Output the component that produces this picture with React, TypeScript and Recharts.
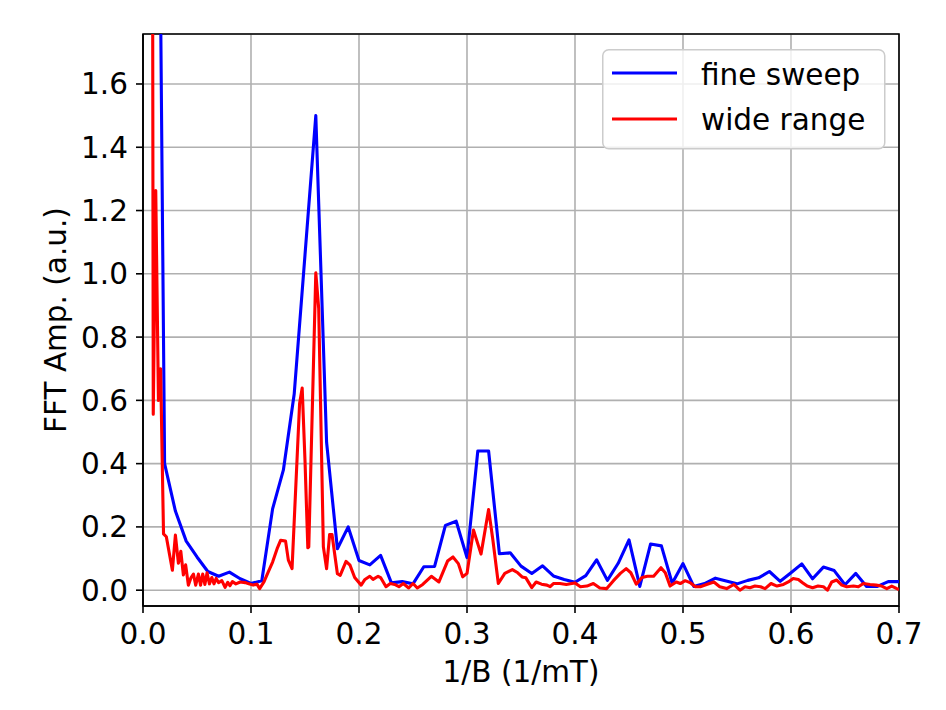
import React from 'react';
import { LineChart, Line, XAxis, YAxis, CartesianGrid, ReferenceArea, Legend } from 'recharts';

const xTicks = [0, 0.1, 0.2, 0.3, 0.4, 0.5, 0.6, 0.7];
const yTicks = [0, 0.2, 0.4, 0.6, 0.8, 1.0, 1.2, 1.4, 1.6];

const fineX = [
  0.01, 0.02, 0.03, 0.04, 0.05, 0.06, 0.07, 0.08, 0.09, 0.10,
  0.11, 0.12, 0.13, 0.14, 0.15, 0.16, 0.17, 0.18, 0.19, 0.20,
  0.21, 0.22, 0.23, 0.24, 0.25, 0.26, 0.27, 0.28, 0.29, 0.30,
  0.31, 0.32, 0.33, 0.34, 0.35, 0.36, 0.37, 0.38, 0.39, 0.40,
  0.41, 0.42, 0.43, 0.44, 0.45, 0.46, 0.47, 0.48, 0.49, 0.50,
  0.51, 0.52, 0.53, 0.54, 0.55, 0.56, 0.57, 0.58, 0.59, 0.60,
  0.61, 0.62, 0.63, 0.64, 0.65, 0.66, 0.67, 0.68, 0.69, 0.70,
];
const fineY = [
  4.3, 0.40, 0.25, 0.155, 0.105, 0.059, 0.044, 0.057, 0.036, 0.021,
  0.030, 0.257, 0.38, 0.62, 1.06, 1.50, 0.467, 0.131, 0.20, 0.094,
  0.08, 0.11, 0.023, 0.027, 0.02, 0.074, 0.075, 0.205, 0.218, 0.103,
  0.44, 0.44, 0.115, 0.118, 0.076, 0.053, 0.077, 0.045, 0.034, 0.025,
  0.046, 0.096, 0.031, 0.085, 0.159, 0.012, 0.146, 0.14, 0.022, 0.084,
  0.012, 0.021, 0.038, 0.029, 0.02, 0.031, 0.039, 0.059, 0.028, 0.055,
  0.083, 0.036, 0.073, 0.062, 0.017, 0.053, 0.012, 0.012, 0.027, 0.027,
];

const wideX = [
  0.0072, 0.0095, 0.0118, 0.0143, 0.0163, 0.0190, 0.0216, 0.0272, 0.0300, 0.0328,
  0.0350, 0.0374, 0.0395, 0.0420, 0.0445, 0.0467, 0.0488, 0.0513, 0.0533, 0.0553,
  0.0573, 0.0593, 0.0615, 0.0637, 0.0657, 0.0677, 0.0700, 0.0730, 0.0760, 0.0785,
  0.0805, 0.0828, 0.0860, 0.0900, 0.0946, 0.0980, 0.1020, 0.1055, 0.1080, 0.1120,
  0.1160, 0.1200, 0.1245, 0.1275, 0.1320, 0.1346, 0.1380, 0.1450, 0.1474, 0.1500,
  0.1526, 0.1535, 0.1600, 0.1627, 0.1670, 0.1700, 0.1728, 0.1750, 0.1800, 0.1826,
  0.1880, 0.1917, 0.1960, 0.2020, 0.2055, 0.2100, 0.2130, 0.2177, 0.2200, 0.2250,
  0.2290, 0.2330, 0.2370, 0.2410, 0.2460, 0.2500, 0.2540, 0.2590, 0.2670, 0.2740,
  0.2820, 0.2870, 0.2920, 0.2960, 0.3000, 0.3060, 0.3130, 0.3200, 0.3240, 0.3290,
  0.3350, 0.3420, 0.3470, 0.3510, 0.3545, 0.3600, 0.3640, 0.3690, 0.3740, 0.3770,
  0.3800, 0.3860, 0.3920, 0.3970, 0.4000, 0.4050, 0.4110, 0.4170, 0.4230, 0.4294,
  0.4356, 0.4420, 0.4474, 0.4517, 0.4567, 0.4620, 0.4670, 0.4728, 0.4796, 0.4836,
  0.4880, 0.4938, 0.4975, 0.5020, 0.5070, 0.5115, 0.5160, 0.5218, 0.5286, 0.5340,
  0.5404, 0.5470, 0.5527, 0.5574, 0.5620, 0.5666, 0.5718, 0.5760, 0.5815, 0.5870,
  0.5930, 0.5975, 0.6020, 0.6068, 0.6110, 0.6150, 0.6200, 0.6250, 0.6300, 0.6337,
  0.6377, 0.6423, 0.6470, 0.6516, 0.6578, 0.6624, 0.6670, 0.6732, 0.6788, 0.6840,
  0.6887, 0.6933, 0.6980, 0.7000,
];
const wideY = [
  6.0, 0.556, 1.263, 0.60, 0.70, 0.178, 0.169, 0.063, 0.174, 0.085,
  0.123, 0.048, 0.080, 0.016, 0.040, 0.051, 0.016, 0.051, 0.016, 0.051,
  0.018, 0.055, 0.020, 0.040, 0.020, 0.037, 0.024, 0.030, 0.009, 0.025,
  0.014, 0.027, 0.020, 0.026, 0.024, 0.020, 0.016, 0.019, 0.005, 0.026,
  0.058, 0.089, 0.134, 0.158, 0.155, 0.095, 0.068, 0.59, 0.639, 0.41,
  0.134, 0.137, 1.003, 0.89, 0.137, 0.068, 0.176, 0.176, 0.052, 0.047,
  0.091, 0.079, 0.040, 0.016, 0.034, 0.044, 0.034, 0.044, 0.040, 0.011,
  0.021, 0.018, 0.011, 0.021, 0.007, 0.021, 0.007, 0.018, 0.044, 0.026,
  0.092, 0.105, 0.084, 0.042, 0.053, 0.190, 0.114, 0.255, 0.158, 0.021,
  0.053, 0.065, 0.055, 0.042, 0.039, 0.008, 0.026, 0.019, 0.016, 0.011,
  0.021, 0.021, 0.018, 0.021, 0.023, 0.011, 0.013, 0.021, 0.007, 0.005,
  0.030, 0.053, 0.068, 0.055, 0.019, 0.040, 0.044, 0.044, 0.071, 0.055,
  0.013, 0.026, 0.021, 0.030, 0.023, 0.011, 0.011, 0.018, 0.026, 0.011,
  0.005, 0.018, 0.000, 0.011, 0.008, 0.013, 0.011, 0.005, 0.021, 0.013,
  0.018, 0.026, 0.037, 0.034, 0.023, 0.013, 0.008, 0.013, 0.011, 0.000,
  0.026, 0.032, 0.016, 0.011, 0.013, 0.011, 0.021, 0.018, 0.016, 0.013,
  0.005, 0.013, 0.005, 0.002,
];

const fineData = fineX.map((x, i) => ({ x, y: fineY[i] }));
const wideData = wideX.map((x, i) => ({ x, y: wideY[i] }));

const FONT = 'DejaVu Sans';
const FS = 29.5;
const fmt = (v: number) => v.toFixed(1);

const renderLegend = (props: any) => {
  const payload = props.payload || [];
  return (
    <svg width={285} height={102} style={{ display: 'block', overflow: 'visible' }}>
      <rect x={0.75} y={0.75} width={282} height={99} rx={6} ry={6}
        fill="#ffffff" fillOpacity={0.8} stroke="#cccccc" strokeWidth={1.5} />
      {payload.map((p: any, i: number) => (
        <g key={i}>
          <line x1={10} x2={75} y1={24 + i * 46} y2={24 + i * 46} stroke={p.color} strokeWidth={3} />
          <text x={99} y={36 + i * 45} fontSize={FS} fontFamily={FONT} fill="#000">{p.value}</text>
        </g>
      ))}
    </svg>
  );
};

const XLabel = (props: any) => {
  const vb = props.viewBox;
  return (
    <text x={vb.x + vb.width / 2} y={vb.y + 76} textAnchor="middle" fontSize={FS} fontFamily={FONT} fill="#000">
      1/B (1/mT)
    </text>
  );
};

const YLabel = (props: any) => {
  const vb = props.viewBox;
  const cx = vb.x + 66;
  const cy = vb.y + vb.height / 2;
  return (
    <text x={cx} y={cy} textAnchor="middle" fontSize={FS} fontFamily={FONT} fill="#000"
      transform={`rotate(-90, ${cx}, ${cy})`}>
      FFT Amp. (a.u.)
    </text>
  );
};

export default function App() {
  return (
    <div style={{ position: 'absolute', left: 0, top: 0, width: 946, height: 710, background: '#fff' }}>
      <LineChart width={946} height={710} margin={{ top: 34, right: 47, left: 0, bottom: 0 }}>
        <CartesianGrid stroke="#b0b0b0" strokeWidth={1.6} />
        <XAxis
          type="number"
          dataKey="x"
          domain={[0, 0.7]}
          ticks={xTicks}
          allowDataOverflow
          height={104}
          tickFormatter={fmt}
          tickSize={7}
          tickMargin={10}
          stroke="#000"
          axisLine={{ stroke: '#000', strokeWidth: 1.6 }}
          tickLine={{ stroke: '#000', strokeWidth: 1.6 }}
          tick={{ fill: '#000', fontSize: FS, fontFamily: FONT }}
          label={{ content: (p: any) => <XLabel {...p} /> }}
        />
        <YAxis
          type="number"
          dataKey="y"
          domain={[-0.05, 1.758]}
          ticks={yTicks}
          allowDataOverflow
          width={143}
          tickFormatter={fmt}
          tickSize={7}
          tickMargin={8}
          stroke="#000"
          axisLine={{ stroke: '#000', strokeWidth: 1.6 }}
          tickLine={{ stroke: '#000', strokeWidth: 1.6 }}
          tick={{ fill: '#000', fontSize: FS, fontFamily: FONT }}
          label={{ content: (p: any) => <YLabel {...p} /> }}
        />
        <Line data={fineData} dataKey="y" name="fine sweep" type="linear" stroke="#0000ff"
          strokeWidth={3.1} dot={false} activeDot={false} isAnimationActive={false} strokeLinejoin="round" />
        <Line data={wideData} dataKey="y" name="wide range" type="linear" stroke="#ff0000"
          strokeWidth={3.1} dot={false} activeDot={false} isAnimationActive={false} strokeLinejoin="round" />
        <ReferenceArea x1={0} x2={0.7} y1={-0.05} y2={1.758} fill="none" fillOpacity={0}
          stroke="#000" strokeWidth={1.6} ifOverflow="visible" />
        <Legend
          layout="horizontal"
          verticalAlign="middle"
          align="center"
          wrapperStyle={{ left: 602, top: 49, width: 285, height: 102 }}
          content={renderLegend}
        />
      </LineChart>
    </div>
  );
}
